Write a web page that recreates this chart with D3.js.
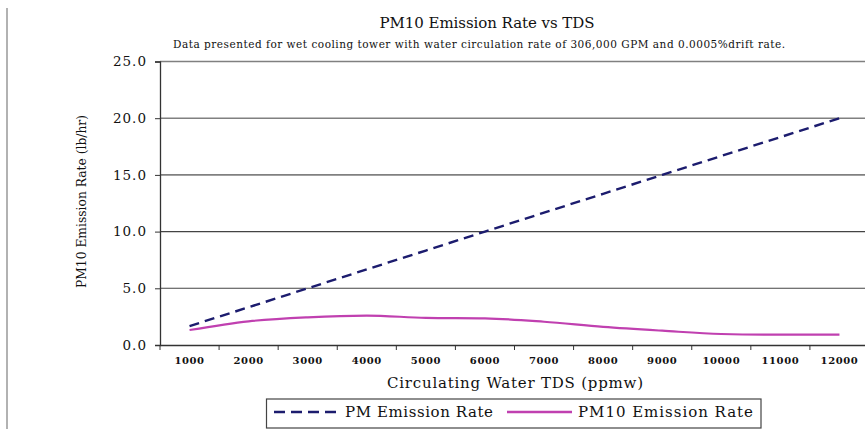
<!DOCTYPE html>
<html>
<head>
<meta charset="utf-8">
<script src="https://cdn.jsdelivr.net/npm/d3@7"></script>
<style>
  body { margin: 0; background: #fff; }
  svg text { font-family: "DejaVu Serif", serif; }
</style>
</head>
<body>
<div id="chart"></div>
<script>
// TDS categories (ppmw)
var tds = [1000, 2000, 3000, 4000, 5000, 6000, 7000, 8000, 9000, 10000, 11000, 12000];
// PM emission rate (lb/hr)
var pmRate = [1.67, 3.33, 5.0, 6.67, 8.33, 10.0, 11.67, 13.33, 15.0, 16.67, 18.33, 20.0];
// PM10 emission rate (lb/hr)
var pm10Rate = [1.32, 2.09, 2.44, 2.59, 2.40, 2.35, 2.05, 1.60, 1.26, 0.97, 0.91, 0.91];
var yTicks = [0, 5, 10, 15, 20, 25];

var svgWidth = 865, svgHeight = 429;

var margin = { top: 61.5, left: 160, right: -4, bottom: 84 };
var width = svgWidth - margin.left - margin.right;
var height = svgHeight - margin.top - margin.bottom;

var svg = d3.select("#chart")
    .append("svg")
    .attr("width", svgWidth)
    .attr("height", svgHeight);

// page edge line at left
svg.append("line")
    .attr("x1", 7).attr("x2", 7)
    .attr("y1", 8).attr("y2", svgHeight)
    .attr("stroke", "#999")
    .attr("stroke-width", 1.5);

var chartGroup = svg.append("g")
    .attr("transform", `translate(${margin.left},${margin.top})`);

var xBand = d3.scaleBand()
    .domain(tds)
    .range([0, width]);

var yLinearScale = d3.scaleLinear()
    .domain([0, 25])
    .range([height, 0]);

// gridlines
chartGroup.append("g")
    .selectAll("line")
    .data(yTicks.filter(d => d > 0))
    .join("line")
    .attr("x1", 0)
    .attr("x2", width)
    .attr("y1", d => yLinearScale(d))
    .attr("y2", d => yLinearScale(d))
    .attr("stroke", d => d >= 15 ? "#808080" : "#444")
    .attr("stroke-width", d => d >= 15 ? 1.6 : 1.1);

// left axis
var leftAxis = d3.axisLeft(yLinearScale)
    .tickValues(yTicks)
    .tickSize(5)
    .tickPadding(8)
    .tickFormat(d3.format(".1f"));

var yAxisG = chartGroup.append("g").call(leftAxis);
yAxisG.attr("font-family", null);
yAxisG.select(".domain").attr("stroke", "#333").attr("stroke-width", 1.3);
yAxisG.selectAll(".tick line").attr("stroke", "#333");
yAxisG.selectAll("text")
    .attr("font-size", 13.5)
    .attr("letter-spacing", 1)
    .attr("fill", "#111");

// bottom axis with ticks between categories
var bottomAxis = d3.axisBottom(xBand).tickSize(0).tickPadding(12);
var xAxisG = chartGroup.append("g")
    .attr("transform", `translate(0,${height})`)
    .call(bottomAxis);
xAxisG.attr("font-family", null);
xAxisG.select(".domain").attr("stroke", "#333").attr("stroke-width", 1.3);
xAxisG.selectAll("text")
    .attr("font-size", 10)
    .attr("font-weight", "bold")
    .attr("letter-spacing", 0.6)
    .attr("fill", "#111");

xAxisG.append("g")
    .selectAll("line")
    .data(tds)
    .join("line")
    .attr("x1", d => xBand(d))
    .attr("x2", d => xBand(d))
    .attr("y1", 0)
    .attr("y2", 5)
    .attr("stroke", "#333");

var xCenter = d => xBand(d) + xBand.bandwidth() / 2;

var pmLine = d3.line()
    .x((d, i) => xCenter(tds[i]))
    .y(d => yLinearScale(d));

var pm10Line = d3.line()
    .x((d, i) => xCenter(tds[i]))
    .y(d => yLinearScale(d))
    .curve(d3.curveMonotoneX);

chartGroup.append("path")
    .attr("d", pm10Line(pm10Rate))
    .attr("fill", "none")
    .attr("stroke", "#c040b0")
    .attr("stroke-width", 2.2);

chartGroup.append("path")
    .attr("d", pmLine(pmRate))
    .attr("fill", "none")
    .attr("stroke", "#1c1c6e")
    .attr("stroke-width", 2.4)
    .attr("stroke-dasharray", "10,6");

// titles
svg.append("text")
    .attr("x", 487)
    .attr("y", 28)
    .attr("text-anchor", "middle")
    .attr("font-size", 15)
    .attr("textLength", 215)
    .attr("lengthAdjust", "spacing")
    .attr("fill", "#111")
    .text("PM10 Emission Rate vs TDS");

svg.append("text")
    .attr("x", 173)
    .attr("y", 48)
    .attr("font-size", 10.5)
    .attr("textLength", 612)
    .attr("lengthAdjust", "spacing")
    .attr("fill", "#111")
    .text("Data presented for wet cooling tower with water circulation rate of 306,000 GPM and 0.0005%drift rate.");

svg.append("text")
    .attr("x", 387)
    .attr("y", 388)
    .attr("font-size", 15)
    .attr("textLength", 256)
    .attr("lengthAdjust", "spacing")
    .attr("fill", "#111")
    .text("Circulating Water TDS (ppmw)");

svg.append("text")
    .attr("transform", "translate(86,288) rotate(-90)")
    .attr("font-size", 13)
    .attr("textLength", 173)
    .attr("lengthAdjust", "spacingAndGlyphs")
    .attr("fill", "#111")
    .text("PM10 Emission Rate (lb/hr)");

// legend
var legend = svg.append("g");
legend.append("rect")
    .attr("x", 266.5).attr("y", 399)
    .attr("width", 494.5).attr("height", 29)
    .attr("fill", "#fff")
    .attr("stroke", "#444")
    .attr("stroke-width", 1.2);

legend.append("line")
    .attr("x1", 274).attr("x2", 340)
    .attr("y1", 412).attr("y2", 412)
    .attr("stroke", "#1c1c6e")
    .attr("stroke-width", 2.6)
    .attr("stroke-dasharray", "11,6");

legend.append("text")
    .attr("x", 345).attr("y", 417)
    .attr("font-size", 15)
    .attr("textLength", 148)
    .attr("lengthAdjust", "spacing")
    .attr("fill", "#111")
    .text("PM Emission Rate");

legend.append("line")
    .attr("x1", 507).attr("x2", 572)
    .attr("y1", 412).attr("y2", 412)
    .attr("stroke", "#c040b0")
    .attr("stroke-width", 2.4);

legend.append("text")
    .attr("x", 578).attr("y", 417)
    .attr("font-size", 15)
    .attr("textLength", 175)
    .attr("lengthAdjust", "spacing")
    .attr("fill", "#111")
    .text("PM10 Emission Rate");
</script>
</body>
</html>
